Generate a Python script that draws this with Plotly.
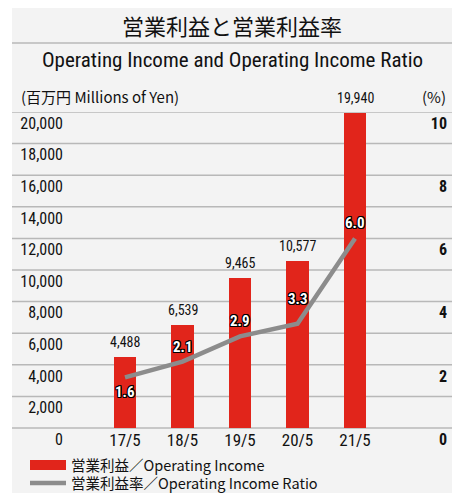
import plotly.graph_objects as go

# データ
years = ['17/5', '18/5', '19/5', '20/5', '21/5']
op_income = [4488, 6539, 9465, 10577, 19940]       # 百万円
op_ratio = [1.6, 2.1, 2.9, 3.3, 6.0]                 # %
ratio_text = ['1.6', '2.1', '2.9', '3.3', '6.0']
left_ticks = [0, 2000, 4000, 6000, 8000, 10000, 12000, 14000, 16000, 18000, 20000]
right_ticks = [0, 2, 4, 6, 8, 10]

W, H = 452, 493
ML, MR, MT, MB = 64, 2, 112, 41
PW, PH = W - ML - MR, H - MT - MB
Y0_PX = 428                       # y=0 の位置
UNIT = (Y0_PX - MT) / 20000       # px / 百万円
YMIN = -(H - MB - Y0_PX) / UNIT   # 下端を少し伸ばして 0 のラベルを入れる

def px_x(px):
    return (px - ML) / PW

def px_y(py):
    return (H - MB - py) / PH

COND = 'Roboto Condensed, DejaVu Sans Condensed, sans-serif'
JP = 'Noto Sans CJK JP, sans-serif'
RED = '#e1251b'
GRAY_LINE = '#8c8c8c'
BG = '#f3f3f3'
GRID = '#b8b8b8'

outline = ('1px 1px 0 #000, -1px -1px 0 #000, 1px -1px 0 #000, -1px 1px 0 #000, '
           '0 1px 0 #000, 0 -1px 0 #000, 1px 0 0 #000, -1px 0 0 #000')

fig = go.Figure()

fig.add_trace(go.Bar(
    x=years, y=op_income,
    marker=dict(color=RED, line=dict(width=0)),
    width=0.383,
    showlegend=False,
))

# 凡例用（棒）
fig.add_trace(go.Scatter(
    x=[None], y=[None], mode='lines',
    line=dict(color=RED, width=16),
    name='営業利益／Operating Income',
    legend='legend',
))

fig.add_trace(go.Scatter(
    x=years, y=op_ratio, yaxis='y2',
    mode='lines',
    line=dict(color=GRAY_LINE, width=4.5),
    name='営業利益率／Operating Income Ratio',
    legend='legend2',
))

shapes = [
    # 背景
    dict(type='rect', xref='paper', yref='paper', x0=px_x(12), x1=px_x(W + 2),
         y0=px_y(H + 2), y1=px_y(8), fillcolor=BG, line=dict(width=0), layer='below'),
    # タイトル下の線
    dict(type='line', xref='paper', yref='paper', x0=px_x(12), x1=px_x(W),
         y0=px_y(43), y1=px_y(43), line=dict(color=GRID, width=1.5), layer='below'),
]
for v in left_ticks:
    shapes.append(dict(type='line', xref='paper', yref='y', x0=px_x(12), x1=px_x(W),
                       y0=v, y1=v, line=dict(color=GRID, width=1.5), layer='below'))

annotations = [
    dict(text='営業利益と営業利益率', xref='paper', yref='paper', x=px_x(232), y=px_y(25),
         showarrow=False, font=dict(family=JP, size=22, color='#111'), xanchor='center', yanchor='middle'),
    dict(text='Operating Income and Operating Income Ratio', xref='paper', yref='paper',
         x=px_x(232), y=px_y(60), showarrow=False,
         font=dict(family=COND, size=21, color='#111'), xanchor='center', yanchor='middle'),
    dict(text='(百万円 Millions of Yen)', xref='paper', yref='paper', x=px_x(19), y=px_y(97),
         showarrow=False, font=dict(family=JP, size=15, color='#111'), xanchor='left', yanchor='middle'),
    dict(text='(%)', xref='paper', yref='paper', x=px_x(448), y=px_y(97),
         showarrow=False, font=dict(family=JP, size=15, color='#111'), xanchor='right', yanchor='middle'),
]

# 棒の上の数値
for yr, v in zip(years, op_income):
    annotations.append(dict(x=yr, y=v, xref='x', yref='y', text=f'{v:,}', showarrow=False,
                            yshift=15, yanchor='middle',
                            font=dict(family=COND, size=14, color='#111')))

# 利益率のラベル（最初だけ線の下）
for i, (yr, v, t) in enumerate(zip(years, op_ratio, ratio_text)):
    shift = -15 if i == 0 else (25 if i == 3 else 15)
    annotations.append(dict(x=yr, y=v, xref='x', yref='y2', text=t, showarrow=False,
                            yshift=shift, yanchor='middle',
                            font=dict(family=COND, size=15, color='white', weight='bold',
                                      shadow=outline)))

legend_style = dict(orientation='v', xanchor='left', yanchor='top', bgcolor='rgba(0,0,0,0)',
                    font=dict(family=JP, size=14.5, color='#111'), itemwidth=36)

fig.update_layout(
    width=W, height=H,
    margin=dict(l=ML, r=MR, t=MT, b=MB, autoexpand=False),
    paper_bgcolor='white', plot_bgcolor=BG,
    shapes=shapes, annotations=annotations,
    xaxis=dict(type='category', range=[-(125 - ML) / 57.5, (W - MR - 125) / 57.5],
               showgrid=False, zeroline=False, showline=False, ticks='',
               ticklabelposition='inside',
               tickfont=dict(family=COND, size=17, color='#111')),
    yaxis=dict(range=[YMIN, 20000], tickvals=left_ticks, tickformat=',', showgrid=False,
               zeroline=False, showline=False, ticks='', ticklabelposition='outside bottom',
               tickfont=dict(family=COND, size=16, color='#111')),
    yaxis2=dict(range=[YMIN / 2000, 10], overlaying='y', side='right', tickvals=right_ticks,
                showgrid=False, zeroline=False, showline=False, ticks='',
                ticklabelposition='inside bottom',
                tickfont=dict(family=COND, size=16, color='#111', weight='bold')),
    legend=dict(x=px_x(25), y=px_y(449), **legend_style),
    legend2=dict(x=px_x(25), y=px_y(467), **legend_style),
    bargap=0,
)

fig.write_html("out.html", config={'displayModeBar': False},
               post_script="document.body.style.margin='0';")
